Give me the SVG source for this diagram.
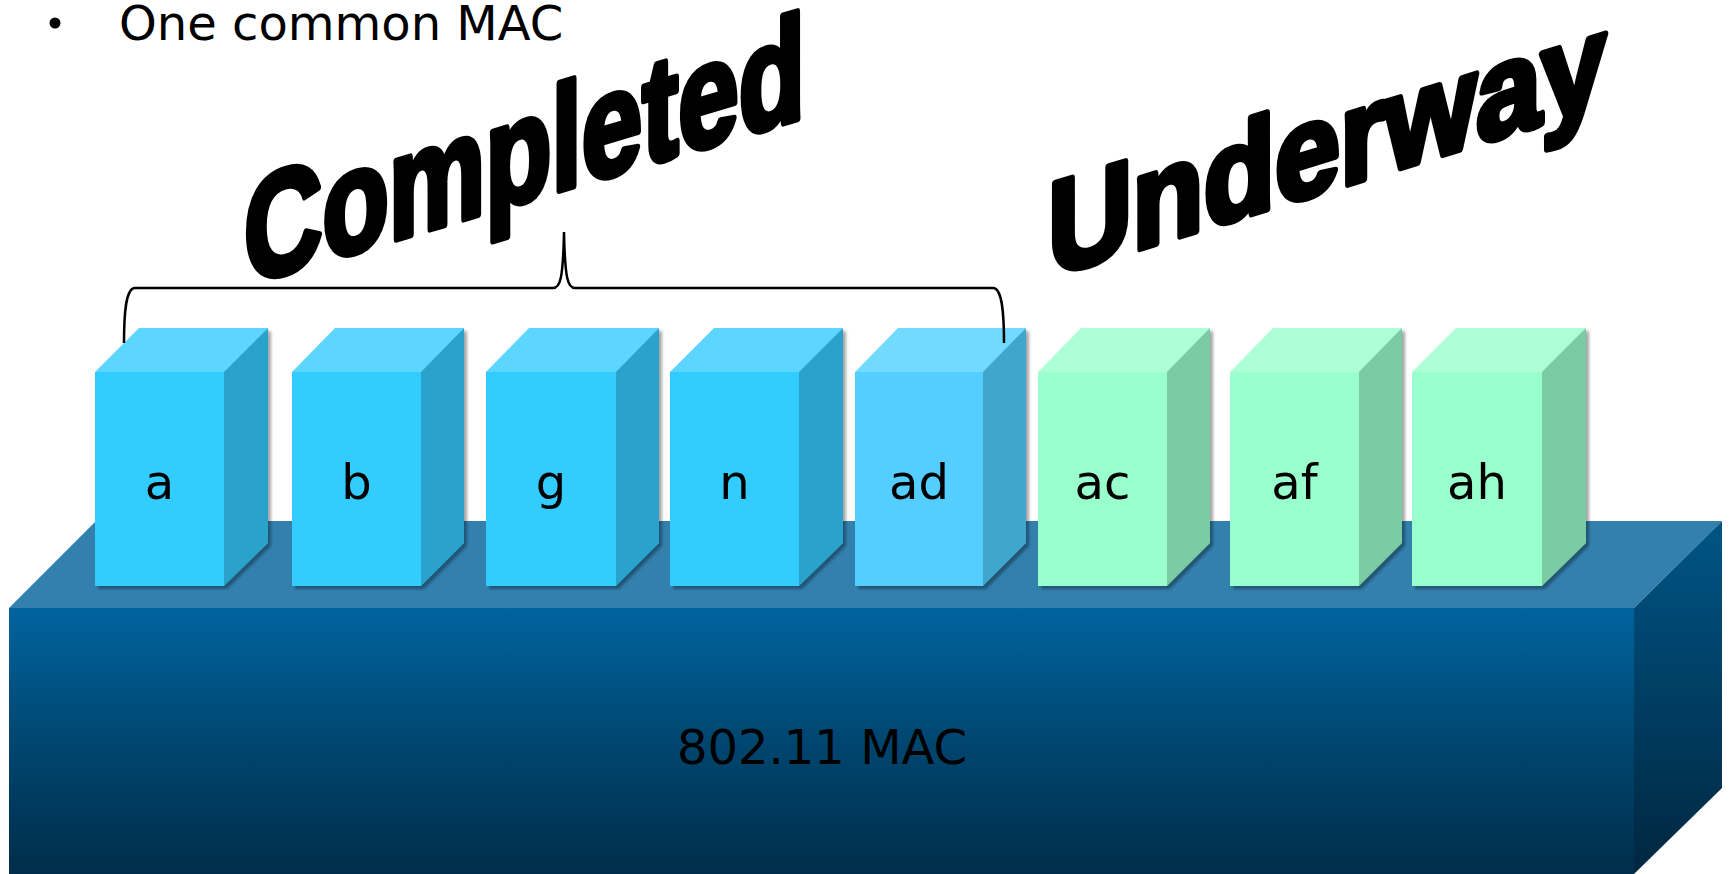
<svg xmlns="http://www.w3.org/2000/svg" width="1731" height="874" viewBox="0 0 1731 874">
<style>
.lbl{font-family:"DejaVu Sans","Verdana",sans-serif;font-size:48px;fill:#000;text-anchor:middle}
.big{font-family:"Liberation Sans","Arial",sans-serif;font-weight:bold;fill:#000;stroke:#000;stroke-width:7;stroke-linejoin:round}
.bf{fill:#33CCFF}.bt{fill:#5CD6FF}.bs{fill:#29A3CC}
.df{fill:#52CEFF}.dt{fill:#72D9FF}.ds{fill:#3FA6CC}
.gf{fill:#99FFCC}.gt{fill:#ADFFD6}.gs{fill:#7ACCA3}
</style>
<defs>
<linearGradient id="gFront" x1="0" y1="0" x2="0" y2="1">
<stop offset="0" stop-color="#00649E"/>
<stop offset="0.5" stop-color="#004670"/>
<stop offset="1" stop-color="#002D4A"/>
</linearGradient>
<linearGradient id="gSide" x1="0" y1="0" x2="0" y2="1">
<stop offset="0" stop-color="#005586"/>
<stop offset="1" stop-color="#00263F"/>
</linearGradient>
<filter id="sh" x="-10%" y="-10%" width="130%" height="130%">
<feDropShadow dx="3" dy="3" stdDeviation="1.5" flood-color="#000" flood-opacity="0.35"/>
</filter>
</defs>
<rect width="1731" height="874" fill="#fff"/>
<g id="bullet">
<circle cx="55" cy="23" r="5.5" fill="#000"/>
<text x="119" y="40" style="font-family:'DejaVu Sans',Verdana,sans-serif;font-size:48px">One common MAC</text>
</g>
<g id="base">
<polygon points="9,608 96,521 1722,521 1634,608" fill="#3380AF"/>
<rect x="9" y="608" width="1625" height="266" fill="url(#gFront)"/>
<polygon points="1634,608 1722,521 1722,788 1634,874" fill="url(#gSide)"/>
<text class="lbl" x="822" y="764">802.11 MAC</text>
</g>
<g id="box-a" filter="url(#sh)">
<polygon class="bt" points="95,372 139,328 268,328 224,372"/>
<polygon class="bs" points="224,372 268,328 268,543 224,586"/>
<rect class="bf" x="95" y="372" width="129" height="214"/>
<text class="lbl" x="159.5" y="499">a</text>
</g>
<g id="box-b" filter="url(#sh)">
<polygon class="bt" points="292,372 335,328 464,328 421,372"/>
<polygon class="bs" points="421,372 464,328 464,543 421,586"/>
<rect class="bf" x="292" y="372" width="129" height="214"/>
<text class="lbl" x="356.5" y="499">b</text>
</g>
<g id="box-g" filter="url(#sh)">
<polygon class="bt" points="486,372 529,328 659,328 616,372"/>
<polygon class="bs" points="616,372 659,328 659,543 616,586"/>
<rect class="bf" x="486" y="372" width="130" height="214"/>
<text class="lbl" x="551" y="499">g</text>
</g>
<g id="box-n" filter="url(#sh)">
<polygon class="bt" points="670,372 714,328 843,328 799,372"/>
<polygon class="bs" points="799,372 843,328 843,543 799,586"/>
<rect class="bf" x="670" y="372" width="129" height="214"/>
<text class="lbl" x="734.5" y="499">n</text>
</g>
<g id="box-ad" filter="url(#sh)">
<polygon class="dt" points="855,372 898,328 1026,328 983,372"/>
<polygon class="ds" points="983,372 1026,328 1026,543 983,586"/>
<rect class="df" x="855" y="372" width="128" height="214"/>
<text class="lbl" x="919" y="499">ad</text>
</g>
<g id="box-ac" filter="url(#sh)">
<polygon class="gt" points="1038,372 1081,328 1210,328 1167,372"/>
<polygon class="gs" points="1167,372 1210,328 1210,543 1167,586"/>
<rect class="gf" x="1038" y="372" width="129" height="214"/>
<text class="lbl" x="1102.5" y="499">ac</text>
</g>
<g id="box-af" filter="url(#sh)">
<polygon class="gt" points="1230,372 1273,328 1402,328 1359,372"/>
<polygon class="gs" points="1359,372 1402,328 1402,543 1359,586"/>
<rect class="gf" x="1230" y="372" width="129" height="214"/>
<text class="lbl" x="1294.5" y="499">af</text>
</g>
<g id="box-ah" filter="url(#sh)">
<polygon class="gt" points="1412,372 1456,328 1586,328 1542,372"/>
<polygon class="gs" points="1542,372 1586,328 1586,543 1542,586"/>
<rect class="gf" x="1412" y="372" width="130" height="214"/>
<text class="lbl" x="1477" y="499">ah</text>
</g>
<g id="connectors">
<path d="M124,343 C124,312 126,290 134,288 L553,288 C560,288 563,280 564,232 C565,280 568,288 575,288 L994,288 C1002,290 1004,312 1004,343" fill="none" stroke="#000" stroke-width="2.5"/>
</g>
<g id="completed">
<text class="big" transform="translate(244,285) skewY(-16.7)" x="0" y="0" font-size="148" textLength="561" lengthAdjust="spacingAndGlyphs">Completed</text>
</g>
<g id="underway">
<text class="big" transform="translate(1048,277) skewY(-17.2)" x="0" y="0" font-size="133" textLength="558" lengthAdjust="spacingAndGlyphs">Underway</text>
</g>
</svg>
